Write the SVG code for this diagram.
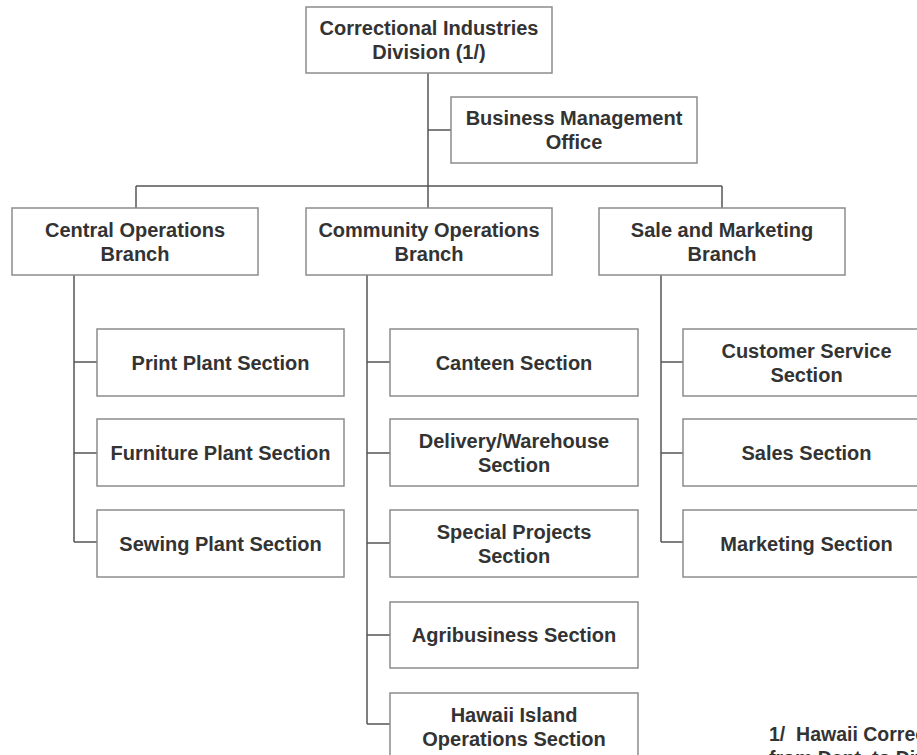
<svg xmlns="http://www.w3.org/2000/svg" width="917" height="755" viewBox="0 0 917 755">
<style>
.box{fill:#fff;stroke:#8c8c8c;stroke-width:1.5}
.t{font-family:"Liberation Sans",Arial,sans-serif;font-weight:bold;font-size:20px;fill:#333;text-anchor:middle}
.fn{font-family:"Liberation Sans",Arial,sans-serif;font-weight:bold;font-size:19.5px;fill:#333;white-space:pre}
.c{fill:none;stroke:#555;stroke-width:1.5}
</style>
<rect width="917" height="755" fill="#fff"/>
<g id="connectors" class="c">
<path d="M428,73V186M428,130H451M136,186H722M136,186V208M428,186V208M722,186V208"/>
<path d="M74,275V542M74,362H97M74,453H97M74,542H97"/>
<path d="M367,275V724M367,362H390M367,453H390M367,543H390M367,635H390M367,724H390"/>
<path d="M661,275V542M661,362H683M661,453H683M661,542H683"/>
</g>
<g id="n-division"><rect class="box" x="306" y="7" width="246" height="66"/><text class="t" x="429" y="35">Correctional Industries</text><text class="t" x="429" y="59">Division (1/)</text></g>
<g id="n-bmo"><rect class="box" x="451" y="97" width="246" height="66"/><text class="t" x="574" y="125">Business Management</text><text class="t" x="574" y="149">Office</text></g>
<g id="n-central"><rect class="box" x="12" y="208" width="246" height="67"/><text class="t" x="135" y="237">Central Operations</text><text class="t" x="135" y="261">Branch</text></g>
<g id="n-community"><rect class="box" x="306" y="208" width="246" height="67"/><text class="t" x="429" y="237">Community Operations</text><text class="t" x="429" y="261">Branch</text></g>
<g id="n-sale"><rect class="box" x="599" y="208" width="246" height="67"/><text class="t" x="722" y="237">Sale and Marketing</text><text class="t" x="722" y="261">Branch</text></g>
<g id="n-print"><rect class="box" x="97" y="329" width="247" height="67"/><text class="t" x="220.5" y="370">Print Plant Section</text></g>
<g id="n-furniture"><rect class="box" x="97" y="419" width="247" height="67"/><text class="t" x="220.5" y="460">Furniture Plant Section</text></g>
<g id="n-sewing"><rect class="box" x="97" y="510" width="247" height="67"/><text class="t" x="220.5" y="551">Sewing Plant Section</text></g>
<g id="n-canteen"><rect class="box" x="390" y="329" width="248" height="67"/><text class="t" x="514" y="370">Canteen Section</text></g>
<g id="n-delivery"><rect class="box" x="390" y="419" width="248" height="67"/><text class="t" x="514" y="448">Delivery/Warehouse</text><text class="t" x="514" y="472">Section</text></g>
<g id="n-special"><rect class="box" x="390" y="510" width="248" height="67"/><text class="t" x="514" y="539">Special Projects</text><text class="t" x="514" y="563">Section</text></g>
<g id="n-agri"><rect class="box" x="390" y="602" width="248" height="66"/><text class="t" x="514" y="642">Agribusiness Section</text></g>
<g id="n-hawaii"><rect class="box" x="390" y="693" width="248" height="67"/><text class="t" x="514" y="722">Hawaii Island</text><text class="t" x="514" y="746">Operations Section</text></g>
<g id="n-customer"><rect class="box" x="683" y="329" width="247" height="67"/><text class="t" x="806.5" y="358">Customer Service</text><text class="t" x="806.5" y="382">Section</text></g>
<g id="n-sales"><rect class="box" x="683" y="419" width="247" height="67"/><text class="t" x="806.5" y="460">Sales Section</text></g>
<g id="n-marketing"><rect class="box" x="683" y="510" width="247" height="67"/><text class="t" x="806.5" y="551">Marketing Section</text></g>
<g id="footnote"><text class="fn" x="769" y="741">1/  Hawaii Correctional Industries</text><text class="fn" x="769" y="765">from Dept. to Division</text></g>
</svg>
